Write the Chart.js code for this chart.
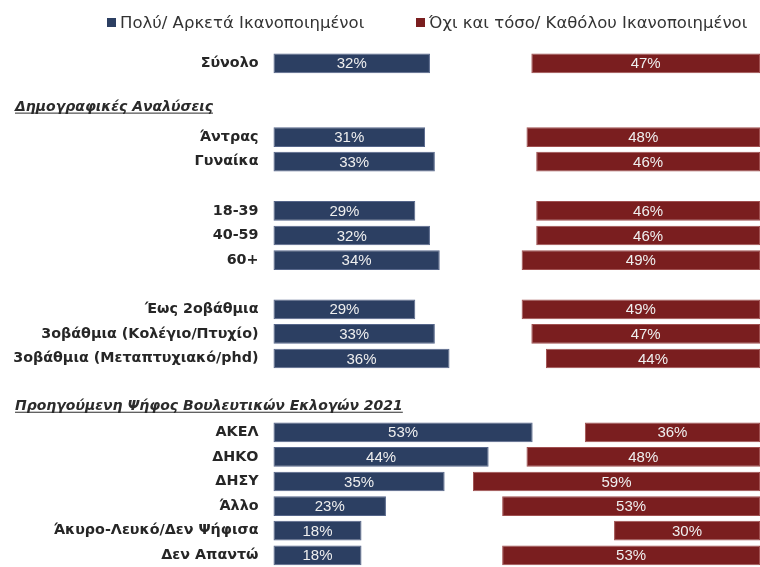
<!DOCTYPE html>
<html><head><meta charset="utf-8">
<script src="https://cdn.jsdelivr.net/npm/chart.js@4/dist/chart.umd.min.js"></script>
<style>html,body{margin:0;padding:0;background:#fff}#wrap{width:760px;height:567px}</style>
</head><body><div id="wrap"><canvas id="c" width="760" height="567"></canvas></div>
<script>
const categories = ['Σύνολο','','','Άντρας','Γυναίκα','','18-39','40-59','60+','','Έως 2οβάθμια','3οβάθμια (Κολέγιο/Πτυχίο)','3οβάθμια (Μεταπτυχιακό/phd)','','','ΑΚΕΛ','ΔΗΚΟ','ΔΗΣΥ','Άλλο','Άκυρο-Λευκό/Δεν Ψήφισα','Δεν Απαντώ'];
const satisfied =    [32,null,null,31,33,null,29,32,34,null,29,33,36,null,null,53,44,35,23,18,18];
const dissatisfied = [47,null,null,48,46,null,46,46,49,null,49,47,44,null,null,36,48,59,53,30,53];
const seriesNames = ['Πολύ/ Αρκετά Ικανοποιημένοι','Όχι και τόσο/ Καθόλου Ικανοποιημένοι'];
const sectionHeaders = ['Δημογραφικές Αναλύσεις','Προηγούμενη Ψήφος Βουλευτικών Εκλογών 2021'];

const BLUE = '#2c3f62', RED = '#7a1e1f';
const FONT = "'Liberation Sans', Arial, sans-serif";
const WIDE = "'DejaVu Sans', sans-serif";

const valueLabels = {
  id: 'valueLabels',
  afterDatasetsDraw(chart) {
    const ctx = chart.ctx;
    ctx.save();
    ctx.font = '15px ' + FONT;
    ctx.fillStyle = '#efefef';
    ctx.textAlign = 'center';
    ctx.textBaseline = 'middle';
    chart.data.datasets.forEach((ds, di) => {
      const meta = chart.getDatasetMeta(di);
      meta.data.forEach((el, i) => {
        const v = ds.data[i];
        if (v === null || v === undefined) return;
        const cx = (el.x + el.base) / 2;
        ctx.fillText(v + '%', cx, el.y + 1);
      });
    });
    ctx.restore();
  }
};

const headersPlugin = {
  id: 'headers',
  afterDraw(chart, args, opts) {
    const ctx = chart.ctx;
    const ys = chart.scales.y;
    ctx.save();
    ctx.font = 'italic bold 14px ' + WIDE;
    ctx.fillStyle = '#2b2b2b';
    ctx.strokeStyle = '#2b2b2b';
    ctx.lineWidth = 1;
    ctx.textAlign = 'left';
    ctx.textBaseline = 'alphabetic';
    sectionHeaders.forEach((t, i) => {
      const y = ys.getPixelForValue(opts.rows[i]) + 5;
      ctx.fillText(t, opts.x, y);
      const w = ctx.measureText(t).width;
      ctx.beginPath();
      ctx.moveTo(opts.x, y + 2.5);
      ctx.lineTo(opts.x + w, y + 2.5);
      ctx.stroke();
    });
    ctx.restore();
  }
};

const legendPlugin = {
  id: 'customLegend',
  afterDraw(chart, args, opts) {
    const ctx = chart.ctx;
    ctx.save();
    ctx.font = '16.5px ' + WIDE;
    ctx.textBaseline = 'alphabetic';
    ctx.textAlign = 'left';
    chart.data.datasets.forEach((ds, i) => {
      const x = opts.x[i];
      ctx.fillStyle = ds.backgroundColor;
      ctx.fillRect(x, opts.y - 10, 9, 9);
      ctx.fillStyle = '#333333';
      ctx.fillText(ds.label, x + 13, opts.y);
    });
    ctx.restore();
  }
};

new Chart(document.getElementById('c'), {
  type: 'bar',
  data: {
    labels: categories,
    datasets: [
      { label: seriesNames[0], data: satisfied, xAxisID: 'xb', backgroundColor: BLUE, borderColor: '#56668a', borderWidth: 1, borderSkipped: false, clip: false },
      { label: seriesNames[1], data: dissatisfied, xAxisID: 'xr', backgroundColor: RED, borderColor: '#a05050', borderWidth: 1, borderSkipped: false, clip: false }
    ]
  },
  options: {
    responsive: false,
    animation: false,
    devicePixelRatio: 1,
    indexAxis: 'y',
    grouped: false,
    categoryPercentage: 1,
    barPercentage: 0.8,
    layout: { padding: { top: 63.3, bottom: 11.7, left: 0, right: 0 } },
    plugins: {
      legend: { display: false },
      tooltip: { enabled: false },
      headers: { x: 15, rows: [1.72, 13.88] },
      customLegend: { x: [107, 416], y: 28 }
    },
    scales: {
      y: {
        type: 'category', offset: false,
        grid: { display: false, drawTicks: false },
        border: { display: false },
        ticks: { autoSkip: false, padding: 15, color: '#262626', font: { family: WIDE, size: 14.3, weight: 'bold' } },
        afterFit(s) { s.width = 273.5; s.paddingTop = 0; s.paddingBottom = 0; }
      },
      xb: { type: 'linear', display: false, min: 0, max: 99.5 },
      xr: { type: 'linear', display: false, min: 0, max: 100, reverse: true }
    }
  },
  plugins: [valueLabels, headersPlugin, legendPlugin]
});
</script>
</body></html>
